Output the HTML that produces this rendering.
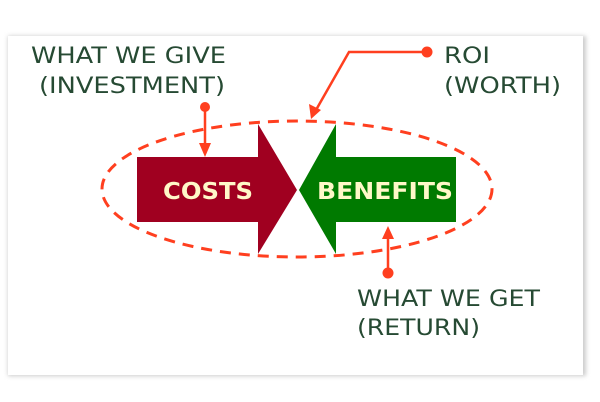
<!DOCTYPE html>
<html><head><style>
html,body{margin:0;padding:0;background:#fff;}
svg{display:block;}
</style></head><body>
<svg width="600" height="402" viewBox="0 0 600 402" xmlns="http://www.w3.org/2000/svg">
<defs>
<filter id="sh" x="-5%" y="-5%" width="110%" height="110%"><feGaussianBlur stdDeviation="2"/></filter>
</defs>
<rect x="8" y="36" width="578" height="340" fill="#ccc" filter="url(#sh)"/>
<rect x="8" y="36" width="575" height="339" fill="#fff"/>
<ellipse cx="297" cy="189" rx="195" ry="68" fill="none" stroke="#ff3f1f" stroke-width="3" stroke-dasharray="11 8"/>
<polygon points="137,157 258,157 258,124 297,190 258,254 258,222 137,222" fill="#a00020"/>
<polygon points="456,157 336,157 336,124 299,190 336,254 336,222 456,222" fill="#007a00"/>
<g font-family="DejaVu Sans, Verdana, sans-serif" font-weight="bold" font-size="23" fill="#fff8c8">
<text x="163" y="199" textLength="90" lengthAdjust="spacingAndGlyphs">COSTS</text>
<text x="317" y="199" textLength="136" lengthAdjust="spacingAndGlyphs">BENEFITS</text>
</g>
<g stroke="#ff3f1f" stroke-width="2.5" fill="none">
<line x1="205" y1="107" x2="205" y2="146"/>
<polyline points="427,52 349,52 316,110"/>
<line x1="388" y1="273" x2="388" y2="236"/>
</g>
<g fill="#ff3f1f">
<circle cx="205" cy="107" r="5"/>
<polygon points="199,143 211,143 205,157"/>
<circle cx="427" cy="52" r="5.5"/>
<polygon points="309,104 321,110 311,119"/>
<circle cx="388" cy="273" r="5.5"/>
<polygon points="382,239 394,239 388,226"/>
</g>
<g font-family="DejaVu Sans, Verdana, sans-serif" font-size="22" fill="#264a33">
<text x="31" y="63" textLength="195" lengthAdjust="spacingAndGlyphs">WHAT WE GIVE</text>
<text x="39" y="93" textLength="186" lengthAdjust="spacingAndGlyphs">(INVESTMENT)</text>
<text x="444" y="63" textLength="46" lengthAdjust="spacingAndGlyphs">ROI</text>
<text x="444" y="93" textLength="117" lengthAdjust="spacingAndGlyphs">(WORTH)</text>
<text x="357" y="306" textLength="183" lengthAdjust="spacingAndGlyphs">WHAT WE GET</text>
<text x="357" y="335" textLength="123" lengthAdjust="spacingAndGlyphs">(RETURN)</text>
</g>
</svg>
</body></html>
